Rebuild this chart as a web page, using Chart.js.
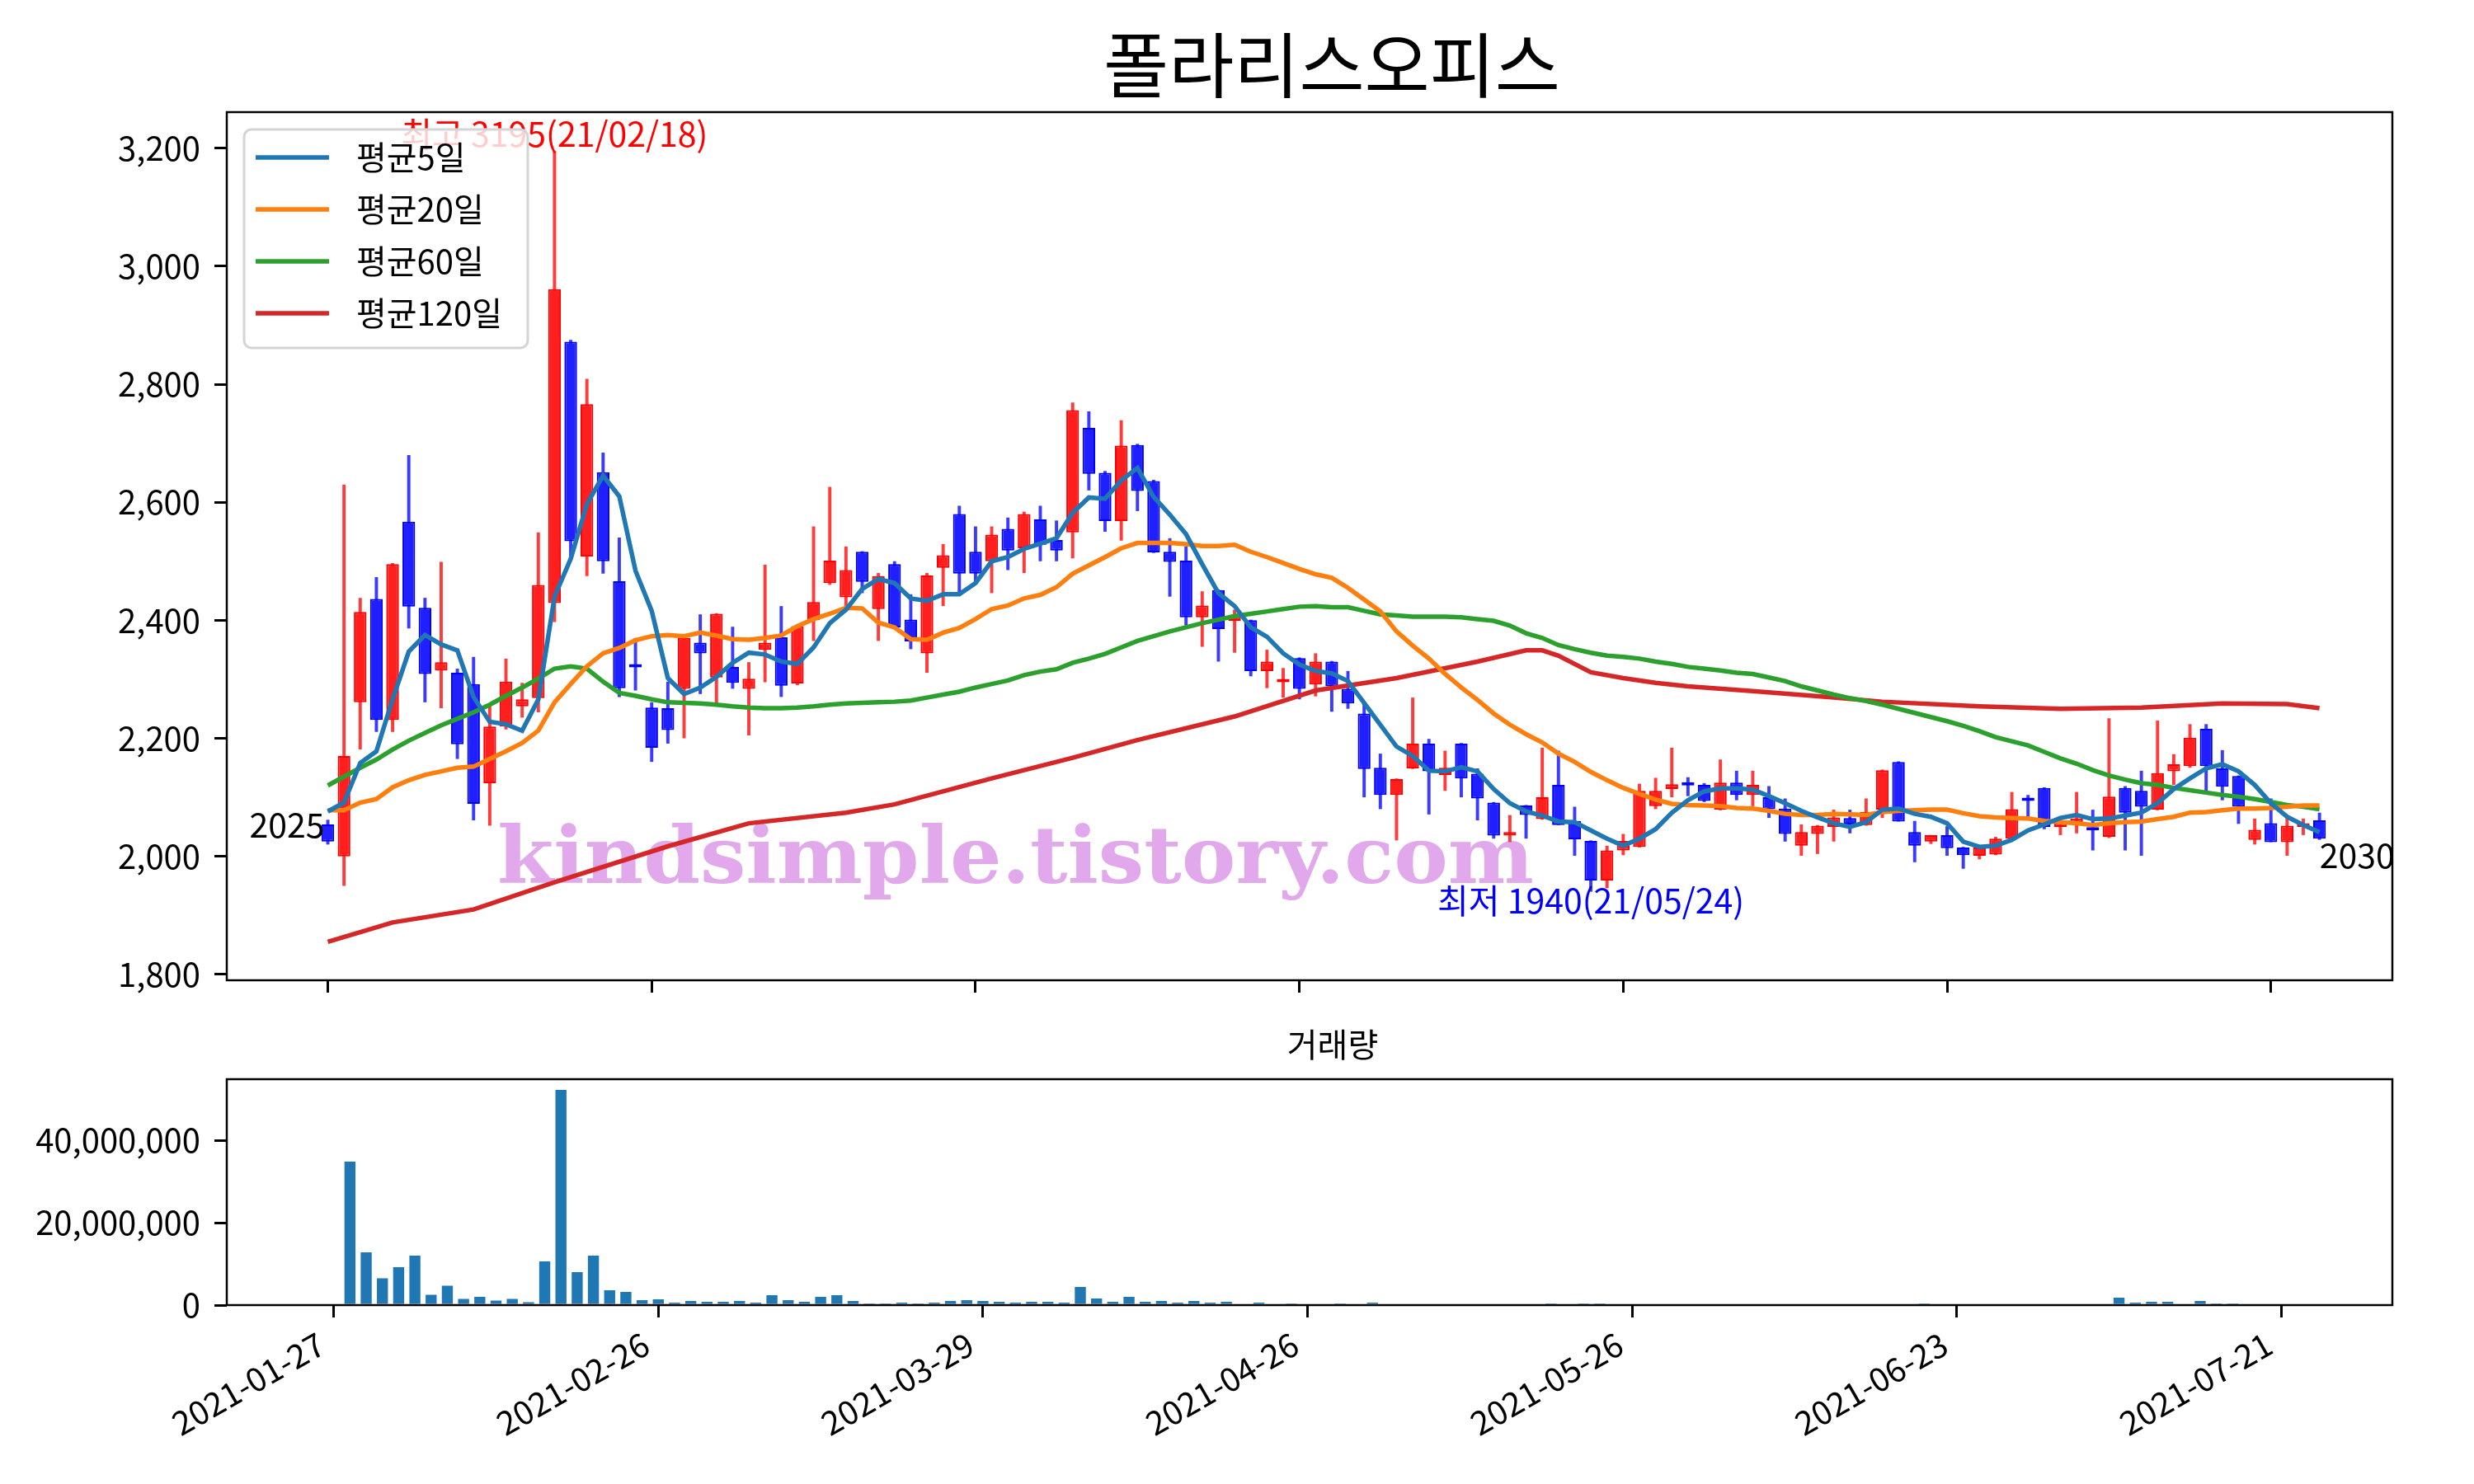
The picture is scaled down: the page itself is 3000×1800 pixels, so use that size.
<!DOCTYPE html>
<html>
<head>
<meta charset="utf-8">
<script src="https://cdn.jsdelivr.net/npm/chart.js@4.4.1/dist/chart.umd.min.js"></script>
<style>
  html, body { margin: 0; background: #fff; }
  #wrap { position: relative; width: 3000px; height: 1800px; background: #fff; }
  canvas { position: absolute; left: 0; }
  #main { top: 0; }
  #vol { top: 1230px; }
</style>
</head>
<body>
<div id="wrap">
  <canvas id="main" width="3000" height="1230"></canvas>
  <canvas id="vol" width="3000" height="570"></canvas>
</div>
<script>
// ---- data (trading-day index 0 = 2021-01-27) ----
const tickPos = [0, 20, 40, 60, 80, 100, 120];
const tickLabels = ["2021-01-27", "2021-02-26", "2021-03-29", "2021-04-26", "2021-05-26", "2021-06-23", "2021-07-21"];
const priceTicks = [1800, 2000, 2200, 2400, 2600, 2800, 3000, 3200];
const volTicks = [0, 20000000, 40000000];

const opens = [
  2054, 2000, 2261, 2436, 2231, 2567, 2421, 2315, 2311, 2292,
  2124, 2220, 2254, 2268, 2429, 2872, 2508, 2651, 2466, 2322,
  2252, 2251, 2284, 2362, 2303, 2321, 2284, 2350, 2371, 2293,
  2400, 2463, 2439, 2516, 2419, 2495, 2401, 2344, 2489, 2580,
  2516, 2500, 2555, 2522, 2571, 2536, 2549, 2726, 2650, 2568,
  2697, 2636, 2516, 2501, 2405, 2451, 2399, 2400, 2314, 2295,
  2336, 2291, 2330, 2284, 2242, 2150, 2104, 2149, 2191, 2138,
  2191, 2140, 2091, 2035, 2086, 2063, 2121, 2060, 2026, 1959,
  2010, 2016, 2085, 2114, 2125, 2121, 2079, 2125, 2104, 2100,
  2081, 2018, 2038, 2050, 2065, 2053, 2079, 2160, 2041, 2025,
  2036, 2015, 2001, 2003, 2030, 2095, 2116, 2050, 2058, 2049,
  2033, 2116, 2111, 2079, 2144, 2153, 2216, 2149, 2136, 2028,
  2056, 2024, 2050, 2061
];
const highs = [
  2062, 2630, 2438, 2473, 2497, 2680, 2438, 2499, 2318, 2338,
  2259, 2335, 2294, 2549, 3195, 2875, 2809, 2684, 2540, 2370,
  2261, 2296, 2371, 2410, 2412, 2389, 2329, 2494, 2424, 2391,
  2559, 2626, 2525, 2517, 2480, 2500, 2444, 2480, 2529, 2594,
  2559, 2559, 2574, 2584, 2594, 2569, 2769, 2754, 2653, 2739,
  2699, 2638, 2539, 2525, 2449, 2452, 2418, 2401, 2350, 2319,
  2337, 2344, 2331, 2314, 2258, 2174, 2132, 2269, 2199, 2179,
  2192, 2149, 2092, 2070, 2087, 2184, 2179, 2084, 2027, 2018,
  2038, 2123, 2133, 2184, 2134, 2124, 2164, 2145, 2145, 2119,
  2098, 2054, 2053, 2079, 2079, 2098, 2147, 2161, 2060, 2036,
  2051, 2016, 2016, 2033, 2109, 2104, 2117, 2063, 2109, 2079,
  2234, 2119, 2145, 2230, 2173, 2224, 2224, 2180, 2137, 2064,
  2098, 2070, 2064, 2074
];
const lows = [
  2020, 1950, 2181, 2211, 2211, 2386, 2261, 2251, 2165, 2061,
  2052, 2215, 2235, 2244, 2397, 2506, 2475, 2479, 2270, 2281,
  2160, 2191, 2200, 2275, 2258, 2284, 2205, 2295, 2270, 2290,
  2365, 2460, 2423, 2446, 2365, 2388, 2351, 2311, 2424, 2446,
  2465, 2446, 2485, 2480, 2500, 2500, 2505, 2620, 2550, 2535,
  2585, 2514, 2440, 2391, 2355, 2330, 2345, 2305, 2285, 2269,
  2266, 2271, 2245, 2250, 2100, 2080, 2027, 2148, 2071, 2111,
  2100, 2061, 2030, 2024, 2030, 2062, 2053, 2001, 1940, 1946,
  2002, 2015, 2080, 2100, 2102, 2092, 2078, 2095, 2085, 2065,
  2025, 2001, 2004, 2025, 2039, 2052, 2065, 2059, 1990, 2021,
  2001, 1979, 1995, 2002, 2029, 2065, 2046, 2036, 2039, 2010,
  2031, 2010, 2001, 2078, 2121, 2150, 2111, 2095, 2055, 2020,
  2024, 2001, 2036, 2028
];
const closes = [
  2025, 2170, 2414, 2231, 2495, 2423, 2309, 2329, 2190, 2089,
  2220, 2296, 2266, 2460, 2961, 2534, 2766, 2500, 2285, 2320,
  2184, 2214, 2370, 2344, 2411, 2294, 2301, 2362, 2289, 2390,
  2431, 2501, 2485, 2465, 2475, 2388, 2364, 2476, 2510, 2479,
  2479, 2545, 2518, 2580, 2528, 2518, 2756, 2648, 2568, 2696,
  2619, 2515, 2499, 2405, 2425, 2385, 2407, 2314, 2330, 2300,
  2284, 2330, 2288, 2259, 2148, 2104, 2131, 2191, 2144, 2150,
  2132, 2098, 2035, 2041, 2070, 2100, 2053, 2029, 1959, 2010,
  2026, 2111, 2111, 2122, 2120, 2094, 2125, 2104, 2121, 2080,
  2038, 2041, 2052, 2066, 2054, 2075, 2146, 2059, 2018, 2036,
  2014, 2002, 2015, 2030, 2080, 2094, 2050, 2056, 2064, 2044,
  2101, 2074, 2084, 2141, 2156, 2201, 2153, 2118, 2084, 2045,
  2024, 2052, 2056, 2030
];
const volumes = [
  0, 34800000, 12800000, 6500000, 9200000, 12000000, 2500000, 4700000, 1500000, 2000000,
  1100000, 1500000, 700000, 10600000, 52200000, 8000000, 12000000, 3600000, 3200000, 1200000,
  1400000, 600000, 1000000, 800000, 800000, 1000000, 600000, 2400000, 1200000, 800000,
  2000000, 2400000, 1000000, 400000, 400000, 600000, 400000, 600000, 1000000, 1200000,
  1000000, 800000, 600000, 800000, 800000, 600000, 4400000, 1600000, 800000, 2000000,
  800000, 1000000, 600000, 1000000, 600000, 800000, 0, 600000, 0, 400000,
  0, 0, 400000, 0, 600000, 0, 0, 0, 0, 0,
  0, 0, 0, 0, 0, 400000, 0, 400000, 400000, 0,
  0, 0, 0, 0, 0, 0, 0, 0, 0, 0,
  0, 0, 0, 0, 0, 0, 0, 0, 400000, 0,
  0, 0, 0, 0, 0, 0, 0, 0, 0, 0,
  1800000, 600000, 800000, 800000, 0, 1000000, 400000, 400000, 0, 0,
  0, 0, 0, 0
];
const ma5 = [
  2076, 2091, 2158, 2178, 2266, 2347, 2375, 2359, 2349, 2270,
  2228, 2224, 2213, 2266, 2440, 2504, 2597, 2645, 2610, 2484,
  2416, 2302, 2275, 2286, 2304, 2328, 2345, 2342, 2330, 2326,
  2354, 2395, 2418, 2453, 2470, 2463, 2437, 2433, 2444, 2444,
  2463, 2500, 2507, 2521, 2530, 2539, 2582, 2608, 2606, 2637,
  2658, 2609, 2579, 2546, 2495, 2446, 2424, 2388, 2372, 2344,
  2325, 2314, 2310, 2297, 2260, 2223, 2186, 2170, 2145, 2144,
  2151, 2144, 2114, 2090, 2076, 2069, 2059, 2058, 2044, 2030,
  2018, 2030, 2046, 2074, 2095, 2110, 2115, 2115, 2113, 2102,
  2090, 2077, 2066, 2056, 2050, 2058, 2079, 2081, 2072, 2067,
  2056, 2025, 2016, 2018, 2028, 2044, 2054, 2065, 2070, 2063,
  2064, 2069, 2074, 2090, 2114, 2132, 2149, 2156, 2144, 2121,
  2090, 2067, 2053, 2041
];
const ma20 = [
  2078, 2078, 2091, 2097, 2117, 2129, 2138, 2144, 2150, 2152,
  2165, 2178, 2192, 2213, 2261, 2292, 2322, 2344, 2353, 2366,
  2373, 2375, 2373, 2379, 2374, 2368, 2367, 2370, 2374, 2390,
  2402, 2411, 2421, 2420, 2396, 2388, 2368, 2367, 2379, 2387,
  2402, 2419, 2425, 2437, 2443, 2456, 2479, 2493, 2507, 2522,
  2531, 2531, 2531, 2529, 2526, 2526, 2528, 2516, 2507, 2497,
  2487, 2478, 2472, 2455, 2435, 2415, 2381, 2357, 2335, 2309,
  2286, 2265, 2242, 2223, 2207, 2193, 2174, 2160, 2143, 2129,
  2116, 2106, 2096, 2089, 2087, 2086, 2085, 2082, 2081, 2077,
  2072, 2070, 2070, 2072, 2071, 2070, 2075, 2077, 2078, 2079,
  2079, 2073, 2068, 2066, 2065, 2064, 2060, 2058, 2056, 2053,
  2056, 2058, 2059, 2063, 2067, 2074, 2075, 2078, 2081, 2081,
  2082, 2084, 2086, 2086
];
const ma60 = [
  2120, 2135, 2150, 2164, 2181, 2196, 2209, 2222, 2233, 2244,
  2257, 2272, 2286, 2301, 2318, 2322, 2318, 2296, 2277, 2272,
  2266, 2261, 2260, 2259, 2257, 2254, 2252, 2251, 2251, 2252,
  2254, 2257, 2259, 2260, 2261, 2262, 2264, 2269, 2274, 2279,
  2286, 2292, 2298, 2307, 2313, 2317, 2328, 2335, 2343, 2354,
  2365, 2373, 2381, 2388, 2395, 2401, 2407, 2411, 2415, 2419,
  2423, 2424, 2422, 2422, 2416, 2410, 2408, 2406, 2406, 2406,
  2405, 2402, 2399, 2391, 2378, 2370, 2358, 2351, 2345, 2340,
  2338, 2335, 2330, 2326, 2321, 2318, 2315, 2311, 2309, 2303,
  2297, 2288, 2281, 2274, 2268, 2263, 2257, 2250, 2243, 2236,
  2229, 2221, 2212, 2202, 2195, 2188, 2177, 2166, 2157, 2146,
  2137, 2130, 2124, 2121, 2116, 2112, 2108, 2104, 2101, 2097,
  2092, 2087, 2084, 2080
];
// 120-day average, read at these days only
const ma120Days = [0, 4, 9, 14, 21, 26, 32, 35, 41, 46, 50, 56, 61, 66, 71, 74, 75, 76, 78, 80, 82, 84, 88, 93, 96, 102, 107, 112, 117, 121, 123];
const ma120 = [1855, 1888, 1910, 1956, 2017, 2056, 2074, 2088, 2132, 2167, 2197, 2237, 2281, 2302, 2330, 2349, 2349, 2340, 2312, 2302, 2294, 2288, 2280, 2269, 2262, 2254, 2250, 2252, 2259, 2258, 2251];

const hiDate = "21/02/18";
const loDate = "21/05/24";

// ---- styling ----
const FONT = "'Noto Sans CJK KR', 'Noto Sans', sans-serif";
Chart.defaults.font.family = FONT;
Chart.defaults.font.size = 40;
Chart.defaults.color = "#000";

const RED = "#ff1f1f", RED_EDGE = "#ff0000", RED_WICK = "#ff3b3b";
const BLUE = "#1f1fff", BLUE_EDGE = "#0000ff", BLUE_WICK = "#3b3bff";

const days = closes.map((c, i) => i);
const isUp = i => closes[i] >= opens[i];

// box around each plot, like matplotlib spines
const frame = {
  id: "frame",
  afterDraw(chart) {
    const { ctx, chartArea: a } = chart;
    ctx.save();
    ctx.strokeStyle = "#000";
    ctx.lineWidth = 2.5;
    ctx.strokeRect(a.left, a.top, a.right - a.left, a.bottom - a.top);
    ctx.restore();
  }
};

function roundBox(ctx, x, y, w, h, r) {
  ctx.beginPath();
  ctx.moveTo(x + r, y);
  ctx.arcTo(x + w, y, x + w, y + h, r);
  ctx.arcTo(x + w, y + h, x, y + h, r);
  ctx.arcTo(x, y + h, x, y, r);
  ctx.arcTo(x, y, x + w, y, r);
  ctx.closePath();
}

const mainDecor = {
  id: "mainDecor",
  beforeDatasetsDraw(chart) {
    // watermark
    const { ctx } = chart;
    const text = "kindsimple.tistory.com";
    ctx.save();
    ctx.font = "bold 95px 'DejaVu Serif'";
    const w = ctx.measureText(text).width;
    ctx.translate(603, 1071);
    ctx.scale(1257 / w, 1);
    ctx.fillStyle = "rgb(226,168,236)";
    ctx.textBaseline = "alphabetic";
    ctx.textAlign = "left";
    ctx.fillText(text, 0, 0);
    ctx.restore();
  },
  afterDatasetsDraw(chart) {
    const { ctx, scales: { x, y } } = chart;
    ctx.save();
    ctx.font = "41px " + FONT;

    // highest / lowest
    const hi = Math.max(...highs), hiIdx = highs.indexOf(hi);
    const lo = Math.min(...lows), loIdx = lows.indexOf(lo);
    ctx.fillStyle = "#ff0000";
    ctx.textAlign = "center";
    ctx.textBaseline = "bottom";
    ctx.fillText("최고 " + hi + "(" + hiDate + ")", x.getPixelForValue(hiIdx), y.getPixelForValue(hi));
    ctx.fillStyle = "#0000ff";
    ctx.textBaseline = "middle";
    ctx.fillText("최저 " + lo + "(" + loDate + ")", x.getPixelForValue(loIdx), y.getPixelForValue(lo) + 11);

    // first / last close
    const last = closes.length - 1;
    ctx.fillStyle = "#000";
    ctx.textAlign = "right";
    ctx.textBaseline = "bottom";
    ctx.fillText(String(closes[0]), x.getPixelForValue(0) - 4, y.getPixelForValue(closes[0]));
    ctx.textAlign = "left";
    ctx.textBaseline = "top";
    ctx.fillText(String(closes[last]), x.getPixelForValue(last), y.getPixelForValue(closes[last]));

    // legend
    ctx.font = "40px " + FONT;
    roundBox(ctx, 296, 157, 344, 265, 9);
    ctx.fillStyle = "rgba(255,255,255,0.8)";
    ctx.fill();
    ctx.strokeStyle = "#d4d4d4";
    ctx.lineWidth = 3;
    ctx.stroke();
    const lines = chart.data.datasets.filter(d => d.type === "line");
    lines.forEach((d, k) => {
      const ly = 191 + k * 63;
      ctx.strokeStyle = d.borderColor;
      ctx.lineWidth = 5.5;
      ctx.beginPath();
      ctx.moveTo(310, ly);
      ctx.lineTo(399, ly);
      ctx.stroke();
      ctx.fillStyle = "#000";
      ctx.textAlign = "left";
      ctx.textBaseline = "middle";
      ctx.fillText(d.label, 432, ly);
    });

    // title
    ctx.font = "86px " + FONT;
    ctx.textAlign = "center";
    ctx.textBaseline = "middle";
    ctx.fillText("폴라리스오피스", 1615, 79);
    ctx.restore();
  }
};

const volDecor = {
  id: "volDecor",
  afterDraw(chart) {
    const { ctx } = chart;
    ctx.save();
    ctx.font = "40px " + FONT;
    ctx.fillStyle = "#000";
    ctx.textAlign = "center";
    ctx.textBaseline = "middle";
    ctx.fillText("거래량", 1616, 37);
    ctx.restore();
  }
};

const tickGrid = { display: true, drawOnChartArea: false, drawTicks: true, tickLength: 15, color: "#000", lineWidth: 3, offset: false };

function maLine(label, color, xsArr, ysArr, order) {
  return {
    type: "line", label, order,
    data: xsArr.map((d, k) => ({ x: d, y: ysArr[k] })),
    borderColor: color, borderWidth: 5.5, pointRadius: 0, tension: 0, fill: false
  };
}

// ---- price chart ----
new Chart(document.getElementById("main"), {
  type: "bar",
  data: {
    datasets: [
      maLine("평균5일", "#1f77b4", days, ma5, 0),
      maLine("평균20일", "#ff7f0e", days, ma20, 1),
      maLine("평균60일", "#2ca02c", days, ma60, 2),
      maLine("평균120일", "#d62728", ma120Days, ma120, 3),
      {
        label: "body", order: 5, grouped: false,
        data: days.map(i => ({ x: i, y: [opens[i], closes[i]] })),
        backgroundColor: c => isUp(c.dataIndex) ? RED : BLUE,
        borderColor: c => isUp(c.dataIndex) ? RED_EDGE : BLUE_EDGE,
        borderWidth: 2, borderSkipped: false, minBarLength: 4,
        barPercentage: 0.78, categoryPercentage: 1
      },
      {
        label: "wick", order: 6, grouped: false,
        data: days.map(i => ({ x: i, y: [lows[i], highs[i]] })),
        backgroundColor: c => isUp(c.dataIndex) ? RED_WICK : BLUE_WICK,
        borderWidth: 0, barPercentage: 0.2, categoryPercentage: 1
      }
    ]
  },
  options: {
    responsive: false,
    devicePixelRatio: 1,
    animation: false,
    layout: { padding: { left: 0, right: 99, top: 136, bottom: 0 } },
    plugins: { legend: { display: false }, tooltip: { enabled: false } },
    scales: {
      x: {
        type: "linear", min: -6.24, max: 127.5, offset: false,
        afterBuildTicks: s => { s.ticks = tickPos.map(v => ({ value: v })); },
        afterFit: s => { s.height = 40; },
        ticks: { display: false },
        grid: tickGrid,
        border: { display: false }
      },
      y: {
        type: "linear", min: 1790, max: 3261, beginAtZero: false,
        afterBuildTicks: s => { s.ticks = priceTicks.map(v => ({ value: v })); },
        afterFit: s => { s.width = 275; },
        ticks: { padding: 17, callback: v => v.toLocaleString("en-US") },
        grid: tickGrid,
        border: { display: false }
      }
    }
  },
  plugins: [mainDecor, frame]
});

// ---- volume chart ----
new Chart(document.getElementById("vol"), {
  type: "bar",
  data: {
    datasets: [{
      label: "거래량",
      data: days.map(i => ({ x: i, y: volumes[i] })),
      backgroundColor: "#1f77b4",
      barPercentage: 0.68, categoryPercentage: 1
    }]
  },
  options: {
    responsive: false,
    devicePixelRatio: 1,
    animation: false,
    layout: { padding: { left: 0, right: 99, top: 79, bottom: 0 } },
    plugins: { legend: { display: false }, tooltip: { enabled: false } },
    scales: {
      x: {
        type: "linear", min: -6.59, max: 126.84, offset: false,
        afterBuildTicks: s => { s.ticks = tickPos.map(v => ({ value: v })); },
        afterFit: s => { s.height = 217; },
        ticks: {
          autoSkip: false, minRotation: 30, maxRotation: 30, padding: 8, labelOffset: -15,
          callback: v => tickLabels[tickPos.indexOf(v)]
        },
        grid: tickGrid,
        border: { display: false }
      },
      y: {
        type: "linear", min: 0, max: 54800000,
        afterBuildTicks: s => { s.ticks = volTicks.map(v => ({ value: v })); },
        afterFit: s => { s.width = 275; },
        ticks: { padding: 17, callback: v => v.toLocaleString("en-US") },
        grid: tickGrid,
        border: { display: false }
      }
    }
  },
  plugins: [volDecor, frame]
});
</script>
</body>
</html>
